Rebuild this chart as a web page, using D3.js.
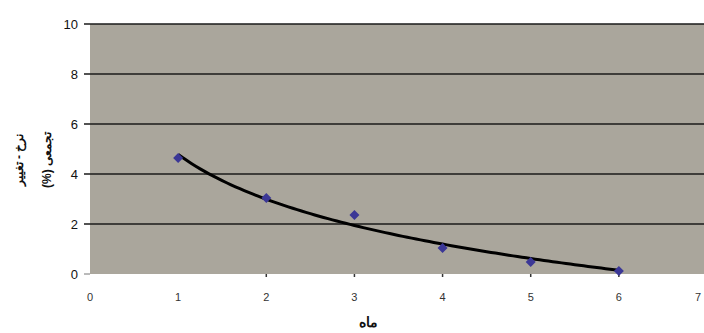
<!DOCTYPE html>
<html>
<head>
<meta charset="utf-8">
<script src="https://cdn.jsdelivr.net/npm/d3@7"></script>
<style>
  body { margin: 0; background: #fff; }
  svg { display: block; font-family: "Liberation Sans", Arial, sans-serif; }
</style>
</head>
<body>
<div id="chart"></div>
<script>
// data
var months = [1, 2, 3, 4, 5, 6];
var values = [4.64, 3.04, 2.36, 1.04, 0.48, 0.12];
var xTicks = [0, 1, 2, 3, 4, 5, 6, 7];
var yTicks = [0, 2, 4, 6, 8, 10];
var xTitle = "ماه";
var yTitle = ["نرخ - تغییر", "(%) تجمعی"];

var width = 704, height = 333;
var margin = { top: 24, right: -3, bottom: 59, left: 90 };

var svg = d3.select("#chart").append("svg")
    .attr("width", width)
    .attr("height", height);

var x = d3.scaleLinear().domain([0, 7]).range([margin.left, width - margin.right]);
var y = d3.scaleLinear().domain([0, 10]).range([height - margin.bottom, margin.top]);

// plot area
svg.append("rect")
    .attr("x", x(0))
    .attr("y", y(10))
    .attr("width", x(7) - x(0))
    .attr("height", y(0) - y(10))
    .attr("fill", "#aaa69c");

// gridlines + left ticks
svg.append("g")
    .selectAll("line")
    .data(yTicks.filter(d => d > 0))
    .join("line")
    .attr("x1", x(0) - 6)
    .attr("x2", x(7))
    .attr("y1", d => y(d))
    .attr("y2", d => y(d))
    .attr("stroke", "#1a1a1a")
    .attr("stroke-width", 1.5);

svg.append("line")
    .attr("x1", x(0) - 6).attr("x2", x(0))
    .attr("y1", y(0)).attr("y2", y(0))
    .attr("stroke", "#777").attr("stroke-width", 1);

// y tick labels
svg.append("g")
    .selectAll("text")
    .data(yTicks)
    .join("text")
    .attr("x", x(0) - 12)
    .attr("y", d => y(d) + 5)
    .attr("text-anchor", "end")
    .attr("font-size", 13)
    .attr("fill", "#111")
    .text(d => d);

// x ticks (small marks under the plot)
svg.append("g")
    .selectAll("line")
    .data(xTicks.filter(d => d > 1 && d < 7))
    .join("line")
    .attr("x1", d => x(d)).attr("x2", d => x(d))
    .attr("y1", y(0)).attr("y2", y(0) + 3)
    .attr("stroke", "#333").attr("stroke-width", 1.5);

svg.append("g")
    .selectAll("text")
    .data(xTicks)
    .join("text")
    .attr("x", d => Math.min(x(d), width - 6))
    .attr("y", y(0) + 27)
    .attr("text-anchor", "middle")
    .attr("font-size", 11)
    .attr("fill", "#333")
    .text(d => d);

// logarithmic trendline fitted to the points
var lx = months.map(Math.log);
var mx = d3.mean(lx), my = d3.mean(values);
var sxy = d3.sum(lx, (d, i) => (d - mx) * (values[i] - my));
var sxx = d3.sum(lx, d => (d - mx) * (d - mx));
var b = sxy / sxx, a = my - b * mx;
var trend = d3.range(1, 6.001, 0.05).map(t => [t, a + b * Math.log(t)]);

svg.append("path")
    .datum(trend)
    .attr("fill", "none")
    .attr("stroke", "#000")
    .attr("stroke-width", 3)
    .attr("d", d3.line().x(d => x(d[0])).y(d => y(d[1])));

// markers (square diamonds)
svg.append("g")
    .selectAll("path")
    .data(months)
    .join("path")
    .attr("transform", (d, i) => "translate(" + x(d) + "," + y(values[i]) + ") rotate(45)")
    .attr("d", d3.symbol(d3.symbolSquare, 50))
    .attr("fill", "#3b3796");

// axis titles
svg.append("text")
    .attr("x", 368)
    .attr("y", 327)
    .attr("text-anchor", "middle")
    .attr("font-size", 14)
    .attr("font-weight", "bold")
    .attr("fill", "#111")
    .text(xTitle);

var yt = svg.append("text")
    .attr("transform", "translate(23,160) rotate(-90)")
    .attr("text-anchor", "middle")
    .attr("font-size", 12)
    .attr("font-weight", "bold")
    .attr("fill", "#111");
yTitle.forEach(function(s, i) {
    yt.append("tspan")
        .attr("x", 0)
        .attr("dy", i === 0 ? 0 : 28)
        .text(s);
});
</script>
</body>
</html>
